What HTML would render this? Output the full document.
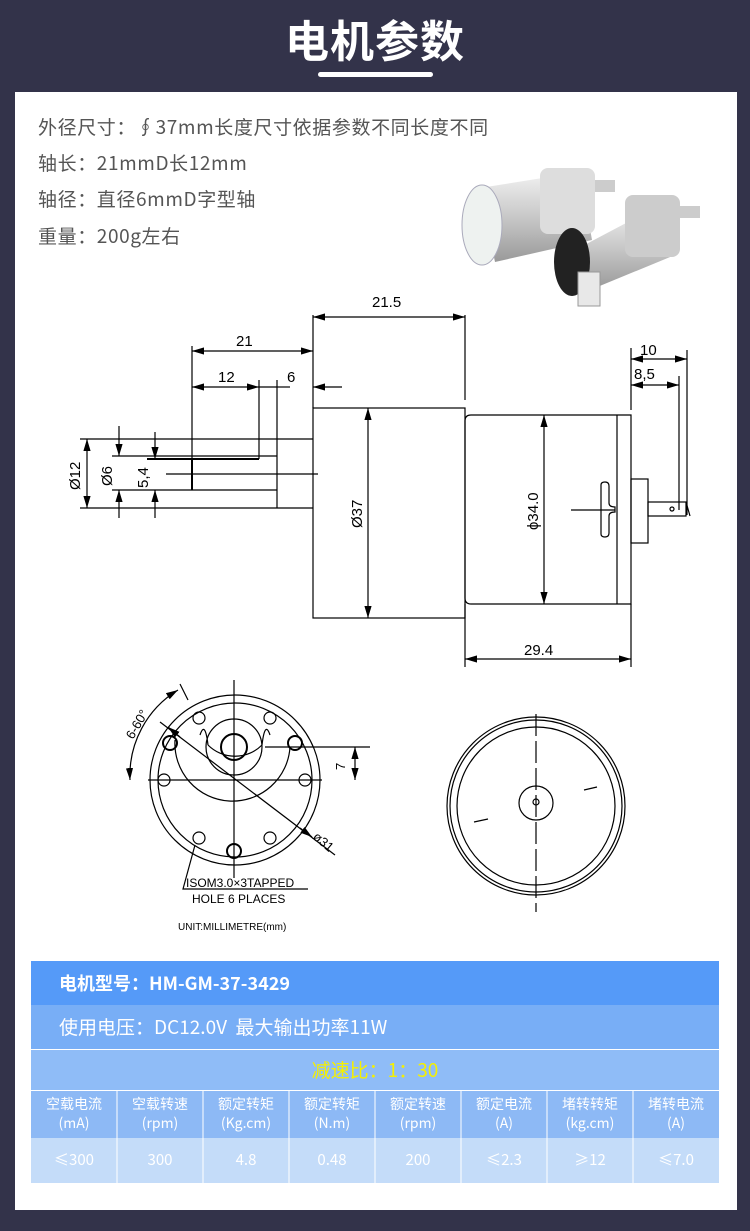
<!DOCTYPE html>
<html><head><meta charset="utf-8"><style>
body{margin:0;width:750px;height:1231px;background:#33334a;font-family:"Liberation Sans","Noto Sans CJK SC",sans-serif;position:relative;overflow:hidden}
.title{position:absolute;left:0;width:750px;top:6px;text-align:center;color:#fff;font-size:44px;font-weight:bold;font-family:"Noto Sans CJK SC",sans-serif;letter-spacing:1px}
.ul{position:absolute;left:318px;top:72px;width:115px;height:5px;border-radius:3px;background:#fff}
.panel{position:absolute;left:15px;top:92px;width:722px;height:1118px;background:#fff}
.t{position:absolute;left:38px;color:#555;font-size:19px;letter-spacing:0.6px;font-family:"Noto Sans CJK SC",sans-serif}
.row{position:absolute;left:31px;width:688px;color:#fff;font-family:"Noto Sans CJK SC",sans-serif}
.cell{position:absolute;width:86px;text-align:center;color:#fff;font-family:"Noto Sans CJK SC",sans-serif}
</style></head><body>
<div class="title">电机参数</div>
<div class="ul"></div>
<div class="panel"></div>
<div class="t" style="top:113px">外径尺寸：∮37mm长度尺寸依据参数不同长度不同</div>
<div class="t" style="top:149px">轴长：21mmD长12mm</div>
<div class="t" style="top:185px">轴径：直径6mmD字型轴</div>
<div class="t" style="top:222px">重量：200g左右</div>

<svg style="position:absolute;left:0;top:0" width="750" height="1231">
<defs><marker id="a" viewBox="0 0 10 6" refX="10" refY="3" markerWidth="10" markerHeight="6" orient="auto-start-reverse"><path d="M0,0L10,3L0,6z" fill="#000"/></marker>
<linearGradient id="g" x1="0" y1="0" x2="0" y2="1"><stop offset="0" stop-color="#f2f2f2"/><stop offset=".5" stop-color="#c8c8c8"/><stop offset="1" stop-color="#999"/></linearGradient></defs>
<!-- photo -->
<g>
<path d="M480 188 L580 172 L592 240 L495 262 Z" fill="url(#g)"/>
<rect x="540" y="168" width="55" height="66" rx="8" fill="#ddd"/>
<rect x="595" y="180" width="20" height="12" fill="#ccc"/>
<ellipse cx="482" cy="225" rx="20" ry="40" fill="#eef2f0" stroke="#aab" />
<path d="M575 250 L660 205 L675 255 L590 290 Z" fill="url(#g)"/>
<rect x="625" y="195" width="55" height="62" rx="8" fill="#ccc"/>
<rect x="680" y="206" width="20" height="12" fill="#ccc"/>
<ellipse cx="572" cy="262" rx="18" ry="34" fill="#222"/>
<rect x="578" y="272" width="22" height="34" fill="#e8e8e8" stroke="#999"/>
</g>
<g stroke="#000" stroke-width="1.2" fill="none">
<rect x="313" y="408" width="152" height="210"/>
<path d="M471 415 H631 V604 H471 Q465 604 465 598 V421 Q465 415 471 415Z"/>
<line x1="617" y1="415" x2="617" y2="604"/>
<rect x="631" y="479" width="17" height="64"/>
<rect x="648" y="502" width="38" height="14"/>
<line x1="686" y1="502" x2="690" y2="516"/>
<circle cx="672" cy="509" r="2"/>
<path d="M601 485 Q601 482 605 482 Q609 482 609 486 V503 Q609 507 615 507 V512 Q609 512 609 516 V533 Q609 537 605 537 Q601 537 601 534Z"/>
<line x1="571" y1="510" x2="615" y2="510"/>
<line x1="80" y1="439" x2="313" y2="439"/><line x1="80" y1="508" x2="313" y2="508"/>
<line x1="112" y1="456" x2="277" y2="456"/><line x1="112" y1="490" x2="277" y2="490"/>
<line x1="147" y1="459" x2="259" y2="459" stroke-width="2"/>
<line x1="166" y1="474" x2="318" y2="474"/>
<line x1="192" y1="459" x2="192" y2="490" stroke-width="2"/>
<line x1="192" y1="346" x2="192" y2="459"/><line x1="259" y1="380" x2="259" y2="459"/><line x1="277" y1="380" x2="277" y2="508"/>
<line x1="313" y1="315" x2="313" y2="408"/><line x1="465" y1="315" x2="465" y2="400"/>
<line x1="313" y1="317" x2="465" y2="317" marker-start="url(#a)" marker-end="url(#a)"/>
<line x1="192" y1="351" x2="313" y2="351" marker-start="url(#a)" marker-end="url(#a)"/>
<line x1="192" y1="387" x2="259" y2="387" marker-start="url(#a)" marker-end="url(#a)"/>
<line x1="259" y1="387" x2="277" y2="387"/>
<line x1="342" y1="387" x2="313" y2="387" marker-end="url(#a)"/>
<line x1="277" y1="387" x2="290" y2="387"/>
<line x1="87" y1="439" x2="87" y2="508" marker-start="url(#a)" marker-end="url(#a)"/>
<line x1="119" y1="426" x2="119" y2="456" marker-end="url(#a)"/><line x1="119" y1="518" x2="119" y2="490" marker-end="url(#a)"/>
<line x1="155" y1="432" x2="155" y2="459" marker-end="url(#a)"/><line x1="155" y1="518" x2="155" y2="490" marker-end="url(#a)"/>
<line x1="368" y1="408" x2="368" y2="618" marker-start="url(#a)" marker-end="url(#a)"/>
<line x1="544" y1="415" x2="544" y2="604" marker-start="url(#a)" marker-end="url(#a)"/>
<line x1="631" y1="348" x2="631" y2="410"/><line x1="687" y1="350" x2="687" y2="515"/><line x1="679" y1="376" x2="679" y2="510"/>
<line x1="631" y1="359" x2="687" y2="359" marker-start="url(#a)" marker-end="url(#a)"/>
<line x1="631" y1="385" x2="679" y2="385" marker-start="url(#a)" marker-end="url(#a)"/>
<line x1="465" y1="604" x2="465" y2="667"/><line x1="631" y1="604" x2="631" y2="667"/>
<line x1="465" y1="659" x2="631" y2="659" marker-start="url(#a)" marker-end="url(#a)"/>
<circle cx="235" cy="780" r="85"/><circle cx="235" cy="780" r="77"/>
<path d="M175 740 A57 57 0 1 0 290 747"/>
<path d="M262 745 A38 38 0 0 1 208 745" />
<path d="M208 745 Q205 720 200 735"/>
<path d="M262 745 Q265 720 270 735"/>
<circle cx="234" cy="747" r="28"/><circle cx="234" cy="747" r="13" stroke-width="2"/>
<line x1="234" y1="680" x2="234" y2="878"/><line x1="148" y1="780" x2="322" y2="780"/><line x1="265" y1="747" x2="370" y2="747"/>
<line x1="355" y1="747" x2="355" y2="780" marker-start="url(#a)" marker-end="url(#a)"/>
<circle cx="199" cy="718" r="6"/><circle cx="270" cy="718" r="6"/>
<circle cx="170" cy="743" r="7" stroke-width="2"/><circle cx="295" cy="743" r="7" stroke-width="2"/>
<circle cx="164" cy="780" r="6"/><circle cx="305" cy="780" r="6"/>
<circle cx="199" cy="838" r="6"/><circle cx="270" cy="838" r="6"/><circle cx="234" cy="851" r="7" stroke-width="2"/>
<line x1="160" y1="722" x2="335" y2="855"/>
<line x1="180" y1="737" x2="168" y2="727" marker-end="url(#a)"/>
<line x1="300" y1="828" x2="312" y2="837" marker-end="url(#a)"/>
<line x1="180" y1="684" x2="188" y2="700"/>
<path d="M178 690 A100 100 0 0 0 130 780" marker-start="url(#a)" marker-end="url(#a)"/>
<path d="M195 845 L183 889 H308"/>
<circle cx="536" cy="806" r="89"/><circle cx="536" cy="806" r="86"/><circle cx="536" cy="806" r="79"/>
<circle cx="536" cy="803" r="17"/><circle cx="536" cy="802" r="3"/>
<line x1="536" y1="714" x2="536" y2="912" stroke-dasharray="22 5"/>
<line x1="474" y1="822" x2="488" y2="819"/><line x1="584" y1="790" x2="597" y2="787"/>
</g>
<g font-family="Liberation Sans,sans-serif" font-size="15" fill="#000">
<text x="372" y="307">21.5</text><text x="236" y="346">21</text><text x="218" y="382">12</text><text x="287" y="382">6</text>
<text x="640" y="355">10</text><text x="634" y="379">8,5</text><text x="524" y="655">29.4</text>
<text transform="translate(80 490) rotate(-90)">Ø12</text><text transform="translate(112 486) rotate(-90)">Ø6</text>
<text transform="translate(148 488) rotate(-90)">5,4</text><text transform="translate(362 528) rotate(-90)">Ø37</text>
<text transform="translate(538 530) rotate(-90)">ϕ34.0</text>
<text transform="translate(345 770) rotate(-90)" font-size="13">7</text>
<text transform="translate(133 740) rotate(-60)" font-size="13">6-60°</text>
<text transform="translate(312 838) rotate(40)" font-size="13">ø31</text>
<text x="186" y="887" font-size="12">ISOM3.0×3TAPPED</text>
<text x="192" y="903" font-size="12">HOLE 6 PLACES</text>
<text x="178" y="930" font-size="10">UNIT:MILLIMETRE(mm)</text>
</g>
</svg>

<div class="row" style="top:961px;height:44px;background:#559af8;font-size:18px;font-weight:bold;line-height:44px;padding-left:28px;box-sizing:border-box">电机型号：HM-GM-37-3429</div>
<div class="row" style="top:1005px;height:44px;background:#78aef6;font-size:19px;line-height:44px;padding-left:28px;box-sizing:border-box">使用电压：DC12.0V&nbsp; 最大输出功率11W</div>
<div class="row" style="top:1050px;height:40px;background:#8fbcf7;font-size:19px;line-height:40px;text-align:center;color:#f5f000">减速比：1：30</div>
<div class="row" style="top:1091px;height:47px;background:#8db9f5"></div>
<div class="row" style="top:1138px;height:45px;background:#c4dcf9"></div>
<svg style="position:absolute;left:31px;top:1091px" width="688" height="92"><g stroke="#fff" stroke-width="1">
<line x1="86" y1="0" x2="86" y2="92"/><line x1="172" y1="0" x2="172" y2="92"/><line x1="258" y1="0" x2="258" y2="92"/><line x1="344" y1="0" x2="344" y2="92"/><line x1="430" y1="0" x2="430" y2="92"/><line x1="516" y1="0" x2="516" y2="92"/><line x1="602" y1="0" x2="602" y2="92"/></g></svg>
<div style="position:absolute;left:31px;top:1095px;font-size:14px;line-height:19px">
<div class="cell" style="left:0">空载电流<br>(mA)</div><div class="cell" style="left:86px">空载转速<br>(rpm)</div><div class="cell" style="left:172px">额定转矩<br>(Kg.cm)</div><div class="cell" style="left:258px">额定转矩<br>(N.m)</div><div class="cell" style="left:344px">额定转速<br>(rpm)</div><div class="cell" style="left:430px">额定电流<br>(A)</div><div class="cell" style="left:516px">堵转转矩<br>(kg.cm)</div><div class="cell" style="left:602px">堵转电流<br>(A)</div>
</div>
<div style="position:absolute;left:31px;top:1150px;font-size:15px;line-height:20px">
<div class="cell" style="left:0">≤300</div><div class="cell" style="left:86px">300</div><div class="cell" style="left:172px">4.8</div><div class="cell" style="left:258px">0.48</div><div class="cell" style="left:344px">200</div><div class="cell" style="left:430px">≤2.3</div><div class="cell" style="left:516px">≥12</div><div class="cell" style="left:602px">≤7.0</div>
</div>
</body></html>
